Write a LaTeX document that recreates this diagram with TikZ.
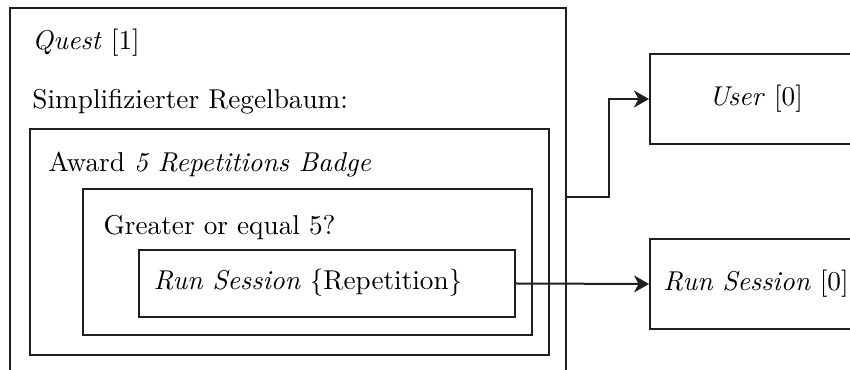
\documentclass[tikz,border=0pt]{standalone}
\usetikzlibrary{arrows.meta}
\begin{document}
\begin{tikzpicture}[x=0.4pt,y=-0.4pt,
  frame/.style={draw=black!88, line width=0.8pt, rectangle, inner sep=0pt, anchor=north west},
  lbl/.style={inner sep=0pt, font=\fontsize{10.9}{13}\selectfont},
  txt/.style={lbl, anchor=base west},
  link/.style={draw=black!88, line width=0.8pt, -{Stealth[length=6pt,width=6.8pt,inset=1.8pt]}}]
\useasboundingbox (0,0) rectangle (850,370);
\clip (0,0) rectangle (850,370);
% nested rule boxes
\node[frame, minimum width=556*0.4pt, minimum height=378*0.4pt] (quest) at (9,7) {};
\node[frame, minimum width=519*0.4pt, minimum height=226*0.4pt] (award) at (29,128) {};
\node[frame, minimum width=449*0.4pt, minimum height=146*0.4pt] (geq) at (82,188) {};
\node[frame, minimum width=376*0.4pt, minimum height=67*0.4pt] (run) at (138,249) {};
% target boxes
\node[frame, minimum width=212*0.4pt, minimum height=90*0.4pt] (user) at (649,53) {};
\node[frame, minimum width=212*0.4pt, minimum height=90*0.4pt] (rs) at (649,238) {};
% labels
\node[txt] (tq) at (32,50) {\textit{Quest} [1]};
\node[txt] (ts) at (32,109) {Simplifizierter Regelbaum:};
\node[txt] (ta) at (48,172) {Award \textit{5 Repetitions Badge}};
\node[txt] (tg) at (103,235) {Greater or equal 5?};
\node[txt] (tr) at (153,290) {\textit{Run Session} \{Repetition\}};
\node[lbl] (tu) at (user.center) {\textit{User} [0]};
\node[lbl] (trs) at (rs.center) {\textit{Run Session} [0]};
% connectors
\draw[link] (quest.east) -- ++(42,0) |- (user.west);
\draw[link] (run.east) -- (rs.west);
\end{tikzpicture}
\end{document}
